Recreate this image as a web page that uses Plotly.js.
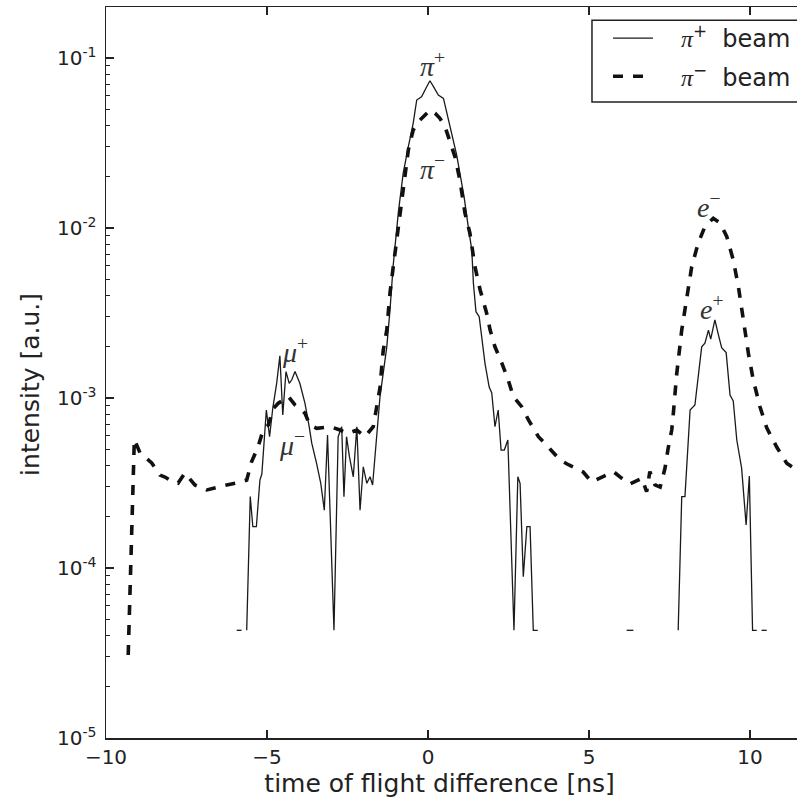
<!DOCTYPE html>
<html>
<head>
<meta charset="utf-8">
<script src="https://cdn.plot.ly/plotly-3.0.1.min.js"></script>
<style>html,body{margin:0;padding:0;background:#fff;}</style>
</head>
<body>
<div id="chart" style="width:797px;height:800px;"></div>
<script>
// pi- beam (dashed)
const minusX = [-9.31, -9.12, -8.94, -8.58, -8.32, -8.17, -8.01, -7.76, -7.55, -7.24, -6.87, -6.56, -6.25, -5.94, -5.63, -5.48, -5.28, -5.12, -4.96, -4.80, -4.65, -4.49, -4.34, -4.13, -3.98, -3.82, -3.67, -3.46, -3.04, -2.73, -2.48, -2.21, -1.96, -1.70, -1.59, -1.49, -1.44, -1.39, -1.28, -1.23, -1.18, -1.08, -0.92, -0.82, -0.71, -0.61, -0.46, -0.30, -0.09, 0.06, 0.22, 0.37, 0.53, 0.68, 0.84, 0.99, 1.15, 1.30, 1.46, 1.62, 1.82, 1.93, 2.08, 2.29, 2.49, 2.65, 2.91, 3.12, 3.43, 3.79, 4.10, 4.32, 4.57, 4.82, 5.08, 5.39, 5.76, 6.02, 6.27, 6.64, 6.79, 6.89, 7.05, 7.21, 7.36, 7.46, 7.57, 7.62, 7.72, 7.88, 8.03, 8.19, 8.39, 8.60, 8.86, 9.07, 9.28, 9.48, 9.64, 9.79, 9.95, 10.10, 10.31, 10.52, 10.83, 11.14, 11.45, 11.6];
const minusY = [3.08e-5, 5.71e-4, 4.74e-4, 4.15e-4, 3.52e-4, 3.43e-4, 3.29e-4, 3.16e-4, 3.62e-4, 3.08e-4, 2.88e-4, 2.99e-4, 3.08e-4, 3.16e-4, 3.29e-4, 4.21e-4, 5.15e-4, 6.48e-4, 6.94e-4, 8.70e-4, 9.31e-4, 9.73e-4, 1.02e-3, 9.10e-4, 8.70e-4, 8.13e-4, 6.94e-4, 6.63e-4, 6.78e-4, 6.48e-4, 6.19e-4, 6.48e-4, 5.92e-4, 6.78e-4, 8.89e-4, 1.15e-3, 1.50e-3, 1.91e-3, 2.51e-3, 3.22e-3, 4.15e-3, 5.90e-3, 1.02e-2, 1.53e-2, 2.19e-2, 2.88e-2, 3.77e-2, 4.22e-2, 4.62e-2, 4.94e-2, 4.73e-2, 4.42e-2, 3.94e-2, 3.29e-2, 2.62e-2, 1.91e-2, 1.22e-2, 9.35e-3, 5.90e-3, 4.32e-3, 3.16e-3, 2.51e-3, 2.00e-3, 1.61e-3, 1.28e-3, 1.02e-3, 8.89e-4, 7.43e-4, 5.92e-4, 5.01e-4, 4.32e-4, 4.09e-4, 3.87e-4, 3.67e-4, 3.21e-4, 3.43e-4, 3.69e-4, 3.37e-4, 3.12e-4, 3.37e-4, 2.81e-4, 3.69e-4, 3.08e-4, 2.99e-4, 3.86e-4, 5.08e-4, 6.48e-4, 8.13e-4, 1.36e-3, 2.51e-3, 3.94e-3, 5.92e-3, 8.13e-3, 1.02e-2, 1.14e-2, 1.07e-2, 8.89e-3, 6.49e-3, 4.52e-3, 2.88e-3, 1.83e-3, 1.28e-3, 8.89e-4, 6.67e-4, 5.15e-4, 4.13e-4, 3.77e-4, 3.6e-4];

// pi+ beam (solid); null = empty bin (not drawn on log scale)
const plusX = [-5.94, -5.79, -5.71, -5.63, -5.52, -5.44, -5.33, -5.22, -5.16, -5.02, -4.92, -4.82, -4.70, -4.60, -4.51, -4.41, -4.31, -4.23, -4.13, -3.98, -3.82, -3.69, -3.61, -3.46, -3.33, -3.22, -3.12, -2.92, -2.79, -2.68, -2.61, -2.53, -2.44, -2.32, -2.21, -2.11, -2.01, -1.90, -1.80, -1.72, -1.59, -1.49, -1.39, -1.28, -1.18, -1.08, -0.92, -0.77, -0.61, -0.46, -0.35, -0.20, -0.04, 0.06, 0.17, 0.32, 0.48, 0.63, 0.79, 0.89, 0.99, 1.12, 1.25, 1.36, 1.41, 1.49, 1.59, 1.67, 1.77, 1.90, 1.98, 2.08, 2.18, 2.27, 2.37, 2.48, 2.67, 2.79, 2.86, 2.96, 3.07, 3.17, 3.27, 3.41, 3.5, 6.17, 6.38, 6.5, 7.77, 7.88, 7.98, 8.14, 8.29, 8.39, 8.50, 8.60, 8.71, 8.78, 8.91, 9.02, 9.12, 9.26, 9.38, 9.48, 9.59, 9.74, 9.88, 9.98, 10.08, 10.21, 10.29, 10.36, 10.52];
const plusY = [4.3e-5, 4.3e-5, null, 4.3e-5, 2.63e-4, 1.75e-4, 1.75e-4, 3.29e-4, 3.57e-4, 8.50e-4, 5.92e-4, 8.73e-4, 1.22e-3, 1.77e-3, 7.94e-4, 1.43e-3, 1.22e-3, 1.28e-3, 1.43e-3, 1.22e-3, 9.31e-4, 6.78e-4, 5.42e-4, 4.13e-4, 3.15e-4, 2.19e-4, 6.06e-4, 4.3e-5, 5.92e-4, 6.78e-4, 2.63e-4, 5.92e-4, 4.52e-4, 3.44e-4, 6.78e-4, 2.19e-4, 3.94e-4, 3.15e-4, 3.44e-4, 3.08e-4, 5.92e-4, 1.02e-3, 1.40e-3, 2.00e-3, 3.30e-3, 6.05e-3, 1.24e-2, 2.10e-2, 3.01e-2, 4.13e-2, 5.66e-2, 5.92e-2, 6.78e-2, 7.35e-2, 6.78e-2, 6.05e-2, 5.79e-2, 4.32e-2, 3.29e-2, 2.69e-2, 2.10e-2, 1.53e-2, 1.02e-2, 7.43e-3, 4.73e-3, 3.22e-3, 3.01e-3, 2.19e-3, 1.60e-3, 1.16e-3, 1.07e-3, 6.78e-4, 8.50e-4, 4.94e-4, 4.94e-4, 5.66e-4, 4.3e-5, 3.44e-4, 3.15e-4, 8.89e-5, 1.75e-4, 1.75e-4, 4.3e-5, 4.3e-5, null, 4.3e-5, 4.3e-5, null, 4.3e-5, 2.63e-4, 2.63e-4, 8.50e-4, 9.10e-4, 1.28e-3, 2.00e-3, 2.10e-3, 2.51e-3, 2.22e-3, 2.88e-3, 2.35e-3, 1.98e-3, 1.85e-3, 1.04e-3, 9.60e-4, 5.66e-4, 3.87e-4, 1.79e-4, 3.48e-4, 4.3e-5, 4.3e-5, null, 4.3e-5, 4.3e-5];

const xTicks = [-10, -5, 0, 5, 10];
const yTickVals = [1e-5, 1e-4, 1e-3, 1e-2, 1e-1];
const yTickText = ['10<sup>-5</sup>', '10<sup>-4</sup>', '10<sup>-3</sup>', '10<sup>-2</sup>', '10<sup>-1</sup>'];
const peakLabels = [
  {sym: 'π', sign: '+', x: 0.15, logy: -1.04},
  {sym: 'π', sign: '−', x: 0.15, logy: -1.647},
  {sym: 'e', sign: '−', x: 8.74, logy: -1.865},
  {sym: 'e', sign: '+', x: 8.83, logy: -2.465},
  {sym: 'μ', sign: '+', x: -4.13, logy: -2.718},
  {sym: 'μ', sign: '−', x: -4.22, logy: -3.265}
];

const SERIF = 'font-family:Liberation Serif;font-style:italic';
const NB = '\u00a0';
const ZWJ = '\u200d';
function legendText(sign){
  return NB + NB + NB + '<span style="' + SERIF + '">π</span><sup>' + sign + '</sup>' + NB + NB + 'beam';
}

const traces = [
  {x: plusX, y: plusY, type: 'scatter', mode: 'lines', name: legendText('+'), legendgroup: 'p',
   line: {color: '#1a1a1a', width: 1.3}, connectgaps: false},
  {x: minusX, y: minusY, type: 'scatter', mode: 'lines', name: legendText('−'), legendgroup: 'm',
   line: {color: '#111', width: 3.6, dash: '10px,10px'}, connectgaps: false}
];

const annotations = peakLabels.map(p => ({
  x: p.x, y: p.logy, xref: 'x', yref: 'y',
  text: '<span style="' + SERIF + '">' + p.sym + '</span><sup>' + p.sign + '</sup>',
  showarrow: false, font: {family: 'Liberation Serif', size: 28, color: '#333'}
}));

const axisFont = {family: 'DejaVu Sans', size: 20, color: '#222'};
const titleFont = {family: 'DejaVu Sans', size: 25, color: '#222'};

const layout = {
  width: 797, height: 800,
  margin: {l: 106, r: 0, t: 7, b: 62},
  paper_bgcolor: '#fff', plot_bgcolor: '#fff',
  showlegend: true,
  legend: {x: 0.7265, y: 0.9877, xanchor: 'left', yanchor: 'top', bgcolor: 'rgba(0,0,0,0)',
           borderwidth: 0, itemwidth: 40, tracegroupgap: 4,
           font: {family: 'DejaVu Sans', size: 24, color: '#222'}},
  shapes: [
    {type: 'rect', xref: 'paper', yref: 'paper', x0: 0.7033, x1: 1.02, y0: 0.870, y1: 0.982,
     line: {color: '#222', width: 1.5}, fillcolor: '#fff', layer: 'above'}
  ],
  xaxis: {range: [-10, 11.46], showgrid: false, zeroline: false, showline: true,
          linecolor: '#222', linewidth: 1.5, mirror: 'ticks', ticks: 'inside',
          ticklen: 8, tickwidth: 1.2, tickcolor: '#222', tickmode: 'array', tickvals: xTicks,
          tickfont: axisFont, ticklabelstandoff: 0,
          title: {text: 'time of flight difference [ns]' + NB + NB + NB + ZWJ, font: titleFont, standoff: 5}},
  yaxis: {type: 'log', range: [-5, -0.7], tickmode: 'array', tickvals: yTickVals, ticktext: yTickText,
          showgrid: false, zeroline: false, showline: true, linecolor: '#222', linewidth: 1.5,
          mirror: false, ticks: 'inside', ticklen: 8, tickwidth: 1.2, tickcolor: '#222',
          minor: {ticks: 'inside', ticklen: 4, dtick: 'D1', tickcolor: '#222', tickwidth: 1, showgrid: false},
          tickfont: axisFont, ticklabelstandoff: 4,
          title: {text: 'intensity [a.u.]' + NB + NB + NB + ZWJ, font: titleFont, standoff: 10}},
  annotations: annotations
};

Plotly.newPlot('chart', traces, layout, {displayModeBar: false, staticPlot: true});
</script>
</body>
</html>
